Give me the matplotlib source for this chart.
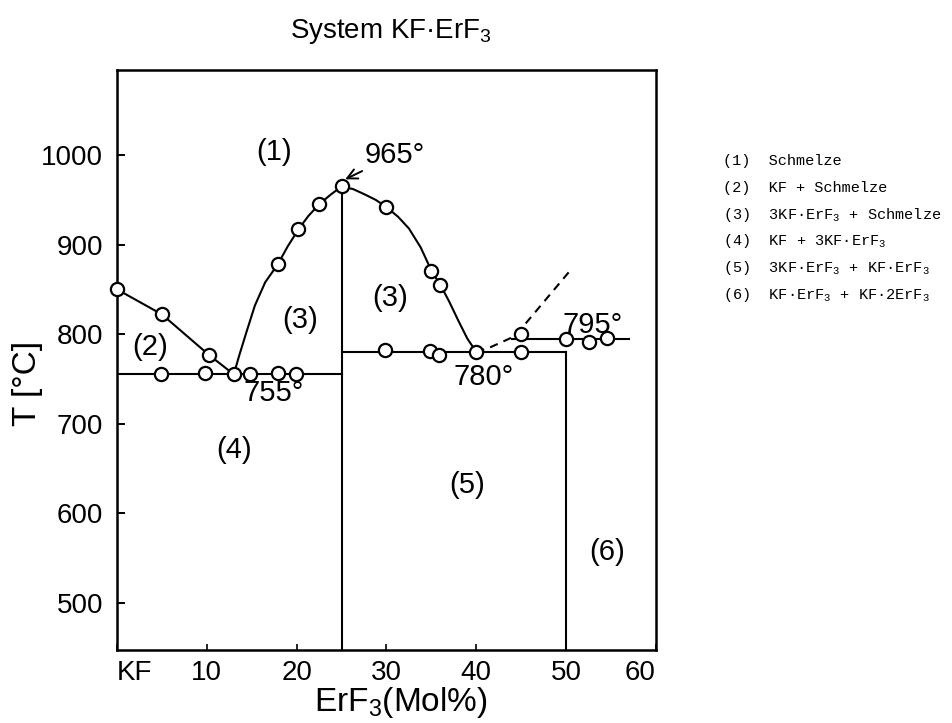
import matplotlib
matplotlib.use("Agg")
import matplotlib.pyplot as plt

plt.rcParams['font.family'] = ['Liberation Sans', 'DejaVu Sans']
plt.rcParams['mathtext.fontset'] = 'custom'
plt.rcParams['mathtext.rm'] = 'Liberation Sans'

# --- phase diagram data (mol % ErF3, temperature in degC) ---
# KF liquidus
kf_liq_x = [0.0, 5.0, 10.2, 13.0]
kf_liq_t = [850, 822, 777, 755]

# 3KF.ErF3 liquidus (congruent maximum at 25 mol %)
cmp_liq_x = [13.0, 13.6, 14.4, 15.35, 16.5, 17.9, 19.0, 20.2, 21.3, 22.5, 23.8, 25.0,
             26.3, 27.6, 28.8, 30.0, 31.3, 32.5, 33.8, 35.0, 36.0, 37.0, 38.0, 39.0, 40.0]
cmp_liq_t = [755, 776, 802, 832, 858, 878, 898, 917, 932, 945, 956, 965,
             962, 956, 950, 942, 931, 918, 897, 871, 855, 836, 815, 795, 780]

# measured liquidus points
liq_pts_x = [0.0, 5.0, 10.2, 13.0, 17.9, 20.2, 22.5, 25.0, 30.0, 35.0, 36.0, 40.0]
liq_pts_t = [850, 822, 777, 755, 878, 917, 945, 965, 942, 871, 855, 780]

# measured arrest points on the isotherms
sol1_x = [4.9, 9.8, 14.8, 17.9, 19.9]
sol1_t = [755, 756, 755, 756, 755]
sol2_x = [29.8, 34.8, 35.9, 45.0]
sol2_t = [782, 781, 777, 780]
sol3_x = [45.0, 50.0, 52.6, 54.6]
sol3_t = [800, 794, 791, 796]

# isotherms: temperature, start, end
iso_t = [755, 780, 795]
iso_x0 = [0.0, 25.0, 44.0]
iso_x1 = [25.0, 50.0, 57.0]

# compound lines: composition and top temperature
comp_x = [25.0, 50.0]
comp_top = [965, 780]

# uncertain liquidus (dashed)
dash_x = [40.0, 41.5, 42.6, 43.7, 44.5, 50.7]
dash_t = [780, 785, 790, 795, 800, 874]

x_ticks = [0, 10, 20, 30, 40, 50, 60]
x_labels = ['KF', '10', '20', '30', '40', '50', '60']
y_ticks = [500, 600, 700, 800, 900, 1000]

fig = plt.figure(figsize=(9.53, 7.23), dpi=100)
ax = fig.add_axes([0.1228, 0.101, 0.5655, 0.802])
ax.set_xlim(0, 60)
ax.set_ylim(447, 1095)
ymin = 447

lw = 1.5
k = 'black'
ax.plot(kf_liq_x, kf_liq_t, color=k, lw=lw, zorder=2)
ax.plot(cmp_liq_x, cmp_liq_t, color=k, lw=lw, zorder=2)
for t, a, b in zip(iso_t, iso_x0, iso_x1):
    ax.plot([a, b], [t, t], color=k, lw=lw, zorder=2)
for x, top in zip(comp_x, comp_top):
    ax.plot([x, x], [ymin, top], color=k, lw=lw, zorder=2)
ax.plot(dash_x, dash_t, color=k, lw=lw, ls=(0, (4, 3)), zorder=2)

mk = dict(ls='none', marker='o', ms=9.5, mfc='white', mec=k, mew=1.6, zorder=3,
          clip_on=False)
ax.plot(liq_pts_x, liq_pts_t, **mk)
ax.plot(sol1_x, sol1_t, **mk)
ax.plot(sol2_x, sol2_t, **mk)
ax.plot(sol3_x, sol3_t, **mk)

# axes styling
for s in ax.spines.values():
    s.set_linewidth(1.8)
ax.set_xticks(x_ticks)
ax.set_xticklabels(x_labels)
ax.set_yticks(y_ticks)
ax.tick_params(axis='y', direction='in', length=6, width=1.4, labelsize=20, pad=10)
ax.tick_params(axis='x', direction='in', length=4, width=1.2, labelsize=20, pad=7)
xt = ax.get_xticklabels()
xt[0].set_ha('left')
xt[-1].set_ha('right')
ax.tick_params(axis='x', which='both', top=False)
ax.tick_params(axis='y', which='both', right=False)

fs = 21
ax.text(17.5, 1004, '(1)', fontsize=fs, ha='center', va='center')
ax.text(3.7, 786, '(2)', fontsize=fs, ha='center', va='center')
ax.text(20.4, 816, '(3)', fontsize=fs, ha='center', va='center')
ax.text(30.4, 840, '(3)', fontsize=fs, ha='center', va='center')
ax.text(13.0, 670, '(4)', fontsize=fs, ha='center', va='center')
ax.text(39.0, 631, '(5)', fontsize=fs, ha='center', va='center')
ax.text(54.6, 556, '(6)', fontsize=fs, ha='center', va='center')

ax.annotate('965°', xy=(25.4, 973), xytext=(27.6, 1000), fontsize=fs,
            ha='left', va='center',
            arrowprops=dict(arrowstyle='->', color=k, lw=1.4,
                            shrinkA=0, shrinkB=0, mutation_scale=18))
ax.text(17.4, 734, '755°', fontsize=fs, ha='center', va='center')
ax.text(40.8, 752, '780°', fontsize=fs, ha='center', va='center')
ax.text(53.0, 810, '795°', fontsize=fs, ha='center', va='center')

# axis titles and heading
fig.text(401 / 953, 1 - 702 / 723, r'ErF$\mathregular{_3}$(Mol%)', fontsize=24,
         ha='center', va='center')
fig.text(28 / 953, 1 - 383 / 723, 'T [°C]', fontsize=24, rotation=90,
         ha='center', va='center')
fig.text(391 / 953, 1 - 31 / 723, r'System KF·ErF$\mathregular{_3}$', fontsize=20,
         ha='center', va='center')

# key to the phase fields
legend_lines = [
    '(1)  Schmelze',
    '(2)  KF + Schmelze',
    r'(3)  3KF·ErF$\mathregular{_3}$ + Schmelze',
    r'(4)  KF + 3KF·ErF$\mathregular{_3}$',
    r'(5)  3KF·ErF$\mathregular{_3}$ + KF·ErF$\mathregular{_3}$',
    r'(6)  KF·ErF$\mathregular{_3}$ + KF·2ErF$\mathregular{_3}$',
]
y0 = 1 - 165 / 723
dy = 26.8 / 723
for i, line in enumerate(legend_lines):
    fig.text(0.7587, y0 - i * dy, line, fontsize=11,
             family=['Liberation Mono', 'DejaVu Sans Mono'],
             ha='left', va='baseline')

fig.savefig('out.png', dpi=100, facecolor='white')
